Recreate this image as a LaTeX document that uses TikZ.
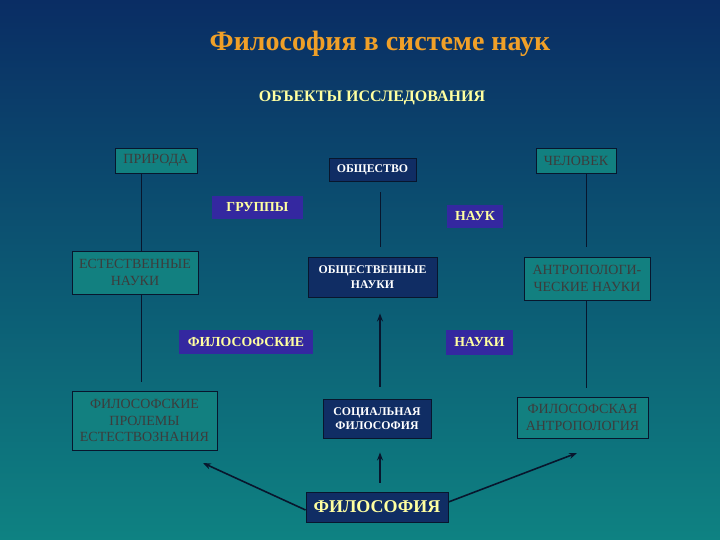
\documentclass[tikz,border=0pt]{standalone}
\usepackage{fontspec}
\setmainfont{Liberation Serif}
\usetikzlibrary{arrows.meta}
\definecolor{bgtop}{RGB}{10,45,100}
\definecolor{bgbot}{RGB}{14,130,130}
\definecolor{tealbox}{RGB}{18,128,128}
\definecolor{navybox}{RGB}{16,45,100}
\definecolor{purplebox}{RGB}{52,40,160}
\definecolor{lineclr}{RGB}{8,22,45}
\definecolor{greytext}{RGB}{60,60,60}
\definecolor{titleor}{RGB}{240,160,40}
\definecolor{lightyel}{RGB}{255,255,160}
\tikzset{
  tbox/.style={draw=lineclr, line width=0.9pt, fill=tealbox, text=greytext, inner sep=0pt, align=center,
    font=\fontsize{14}{16.5}\selectfont},
  nbox/.style={draw=lineclr, line width=0.9pt, fill=navybox, text=white, inner sep=0pt, align=center,
    font=\fontsize{11.8}{14.5}\selectfont\bfseries},
  pbox/.style={fill=purplebox, text=lightyel, inner sep=0pt, align=center,
    font=\fontsize{13.8}{15}\selectfont\bfseries},
  conn/.style={draw=lineclr, line width=0.9pt},
  arr/.style={draw=lineclr, line width=1.6pt, -{Stealth[length=8pt,width=6pt]}},
}
\begin{document}
\begin{tikzpicture}[x=1pt,y=-1pt]
\useasboundingbox (0,0) rectangle (720,540);
\shade[top color=bgtop, bottom color=bgbot] (0,0) rectangle (720,540);

\node[text=titleor, font=\fontsize{28}{32}\selectfont\bfseries] (title) at (380,44) {Философия в системе наук};
\node[text=lightyel, font=\fontsize{16}{18}\selectfont\bfseries] (obj) at (372,98) {ОБЪЕКТЫ ИССЛЕДОВАНИЯ};

\node[tbox, minimum width=82pt, minimum height=25pt] (prir) at (156,160.5) {ПРИРОДА};
\node[nbox, minimum width=87pt, minimum height=23pt] (obsh) at (372.5,169.5) {ОБЩЕСТВО};
\node[tbox, minimum width=80pt, minimum height=25pt] (chel) at (576,160.5) {ЧЕЛОВЕК};

\node[pbox, minimum width=91pt, minimum height=23pt] (grup) at (257.5,207.5) {ГРУППЫ};
\node[pbox, minimum width=56pt, minimum height=23pt] (nauk) at (475,216.5) {НАУК};

\node[tbox, minimum width=126pt, minimum height=43pt] (est) at (135,272.5) {ЕСТЕСТВЕННЫЕ\\НАУКИ};
\node[nbox, minimum width=129pt, minimum height=40pt] (obshn) at (372.5,277) {ОБЩЕСТВЕННЫЕ\\НАУКИ};
\node[tbox, minimum width=126pt, minimum height=43pt] (antr) at (587,278.5) {АНТРОПОЛОГИ-\\ЧЕСКИЕ НАУКИ};

\node[pbox, minimum width=134pt, minimum height=24pt] (filsk) at (246,342) {ФИЛОСОФСКИЕ};
\node[pbox, minimum width=67pt, minimum height=25pt] (nauki) at (479.5,342.5) {НАУКИ};

\node[tbox, minimum width=145pt, minimum height=59pt] (fpe) at (144.5,420.5) {ФИЛОСОФСКИЕ\\ПРОЛЕМЫ\\ЕСТЕСТВОЗНАНИЯ};
\node[nbox, minimum width=108pt, minimum height=39pt] (soc) at (377,418.5) {СОЦИАЛЬНАЯ\\ФИЛОСОФИЯ};
\node[tbox, minimum width=131pt, minimum height=41pt] (fa) at (582.5,417.5) {ФИЛОСОФСКАЯ\\АНТРОПОЛОГИЯ};

\node[nbox, text=lightyel, font=\fontsize{18}{20}\selectfont\bfseries, minimum width=142pt, minimum height=30pt] (fil) at (377,507) {ФИЛОСОФИЯ};

% vertical guide x positions
\coordinate (xl) at (141,0);
\coordinate (xm) at (380,0);
\coordinate (xr) at (586,0);
\coordinate (estend) at (141,382);
\coordinate (fpetip) at (203,463);
\coordinate (fatip) at (577,453);

\draw[conn] (prir.south -| xl) -- (est.north -| xl);
\draw[conn] (est.south -| xl) -- (estend);
\draw[conn, shorten <=11pt, shorten >=10pt] (obsh.south -| xm) -- (obshn.north -| xm);
\draw[conn, shorten >=10pt] (chel.south -| xr) -- (antr.north -| xr);
\draw[conn, shorten >=9pt] (antr.south -| xr) -- (fa.north -| xr);

\draw[arr, shorten <=12pt, shorten >=16pt] (soc.north -| xm) -- (obshn.south -| xm);
\draw[arr, shorten <=9pt, shorten >=14pt] (fil.north -| xm) -- (soc.south -| xm);
\draw[arr] ([yshift=-3pt]fil.west) -- (fpetip);
\draw[arr] ([yshift=5pt]fil.east) -- (fatip);
\end{tikzpicture}
\end{document}
